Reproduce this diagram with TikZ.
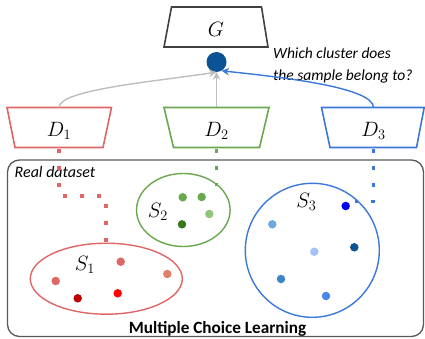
\documentclass[tikz,border=0pt]{standalone}
\usepackage{fontspec}
\newfontfamily\calib{Carlito}
\usetikzlibrary{arrows.meta}
\definecolor{cred}{HTML}{E06666}
\definecolor{cgreen}{HTML}{6AA84F}
\definecolor{cblue}{HTML}{3C78D8}
\definecolor{cnavy}{HTML}{0B5394}
\definecolor{cgrey}{HTML}{BDBDBD}
\definecolor{cframe}{HTML}{595959}
\definecolor{rdark}{HTML}{C00000}
\definecolor{rbright}{HTML}{FF0000}
\definecolor{rsalmon}{HTML}{E0806A}
\definecolor{glight}{HTML}{93C47D}
\definecolor{gdark}{HTML}{38761D}
\definecolor{bpure}{HTML}{0000F0}
\definecolor{blight}{HTML}{6FA8DC}
\definecolor{bpale}{HTML}{A4C2F4}
\definecolor{bmid}{HTML}{3D85C6}
\definecolor{bmid2}{HTML}{4A86E8}
\tikzset{
  trap/.style={line width=1.6pt, line join=miter},
  lbl/.style={inner sep=0pt, font=\fontsize{21.5}{25}\selectfont},
  dotline/.style={line width=3.6pt, dash pattern=on 3.6pt off 13.4pt},
  pt/.style={circle, inner sep=0pt, minimum size=8.5pt},
  note/.style={inner sep=0pt, font=\calib\itshape\fontsize{15.5}{22}\selectfont, align=left},
  conn/.style={line width=1.4pt, -{Stealth[length=7.5pt,width=7.5pt]}}
}
\begin{document}
\begin{tikzpicture}[x=1pt,y=-1pt]
\useasboundingbox (0,0) rectangle (425,339);
% outer frame
\draw[cframe, line width=1.3pt, rounded corners=12pt] (7.5,160) rectangle (423.5,336.5);
\node[note, anchor=base west, font=\calib\itshape\fontsize{16}{19}\selectfont] (real) at (14.5,178) {Real dataset};
\node[inner sep=0pt, anchor=base, font=\calib\bfseries\fontsize{17.2}{20}\selectfont] (mcl) at (217.5,333) {Multiple Choice Learning};
% G
\draw[trap, black!75] (171.5,7) -- (261.5,7) -- (268,47) -- (164,47) -- cycle;
\node[lbl] (G) at (216,29) {$G$};
\node[circle, fill=cnavy, inner sep=0pt, minimum size=20pt] (c) at (216.5,62) {};
\node[note, anchor=north west] (q) at (273,48) {Which cluster does\\the sample belong to?};
% D boxes
\draw[trap, cred] (7,107.5) -- (111.5,107.5) -- (103,147.5) -- (15,147.5) -- cycle;
\node[lbl] (D1) at (59,131) {$D_1$};
\draw[trap, cgreen] (164,107.5) -- (269,107.5) -- (259.5,147.5) -- (173.5,147.5) -- cycle;
\node[lbl] (D2) at (216.5,131) {$D_2$};
\draw[trap, cblue] (321.5,107.5) -- (424.2,107.5) -- (416.5,147.5) -- (330,147.5) -- cycle;
\node[lbl] (D3) at (373.5,131) {$D_3$};
\coordinate (d1t) at (59,107.5);
\coordinate (d2t) at (216.5,107.5);
\coordinate (d3t) at (373.5,107.5);
% connectors
\draw[conn, cgrey] (d1t) .. controls (59,90) and (150,82) .. (c.south);
\draw[conn, cgrey] (d2t) -- (c.south);
\draw[conn, cblue] (d3t) .. controls (373,88) and (290,78) .. (c.-60);
% dotted lines
\draw[dotline, cred] (59,149) -- (59,196) -- (106,196) -- (106,242);
\draw[dotline, cgreen] (216.5,149) -- (216.5,186);
\draw[dotline, cblue] (373.5,149) -- (373.5,201.5) -- (355,201.5);
% clusters
\draw[cred, line width=1.4pt] (106.3,278.7) ellipse [x radius=76, y radius=35.5];
\draw[cgreen, line width=1.4pt] (183.3,210) ellipse [x radius=46.8, y radius=36.5];
\draw[cblue, line width=1.4pt] (312.3,250.3) circle [radius=67];
\node[lbl] (S1) at (85,264.5) {$S_1$};
\node[lbl] (S2) at (158,211.5) {$S_2$};
\node[lbl] (S3) at (306.5,201.5) {$S_3$};
% points
\node[pt, fill=cred] (r1) at (55.7,281) {};
\node[pt, fill=rdark] (r2) at (77.7,298.3) {};
\node[pt, fill=rbright] (r3) at (117.7,293.3) {};
\node[pt, fill=cred] (r4) at (120.7,261.7) {};
\node[pt, fill=rsalmon] (r5) at (167.3,274) {};
\node[pt, fill=cgreen] (g1) at (182.7,197.3) {};
\node[pt, fill=cgreen] (g2) at (201.7,197) {};
\node[pt, fill=glight] (g3) at (209.3,214) {};
\node[pt, fill=gdark] (g4) at (182,224.3) {};
\node[pt, fill=bpure] (b1) at (345.7,206) {};
\node[pt, fill=blight] (b2) at (272.3,224.3) {};
\node[pt, fill=cnavy] (b3) at (354.3,247.3) {};
\node[pt, fill=bpale] (b4) at (314.3,251.7) {};
\node[pt, fill=bmid] (b5) at (281,279) {};
\node[pt, fill=bmid2] (b6) at (326,296) {};
\end{tikzpicture}
\end{document}
